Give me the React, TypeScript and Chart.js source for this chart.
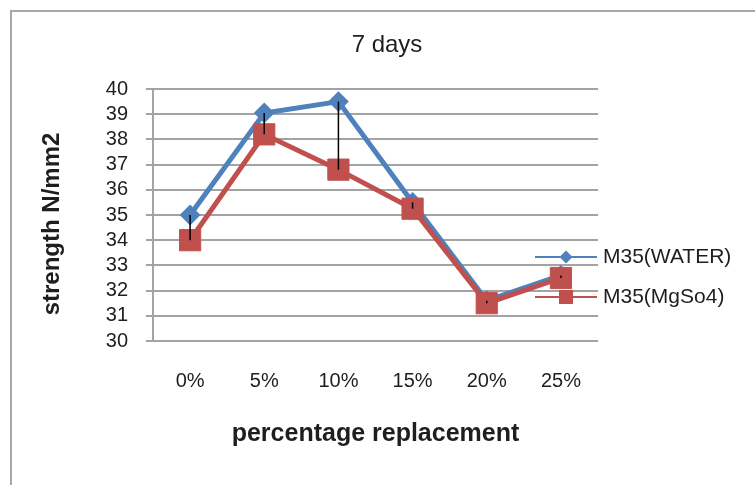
import { useEffect, useRef } from "react";
import { Chart, registerables } from "chart.js";

Chart.register(...registerables);

// Compressive strength at 7 days for each replacement level
const categories = ["0%", "5%", "10%", "15%", "20%", "25%"];
const waterStrength = [35.0, 39.05, 39.5, 35.5, 31.6, 32.6];
const mgso4Strength = [34.0, 38.2, 36.8, 35.25, 31.5, 32.5];
const seriesNames = ["M35(WATER)", "M35(MgSo4)"];
const chartTitle = "7 days";
const yAxisTitle = "strength N/mm2";
const xAxisTitle = "percentage replacement";
const yMin = 30;
const yMax = 40;
const yStep = 1;

const BLUE = "#4F81BD";
const RED = "#C0504D";
const GRID = "#a3a3a3";
const TEXT = "#1e1e1e";
const FONT = "'Liberation Sans', Arial, sans-serif";

// Light frame around the whole figure
const framePlugin = {
  id: "frame",
  beforeDraw(chart: any) {
    const { ctx, width, height } = chart;
    ctx.save();
    ctx.fillStyle = "#ffffff";
    ctx.fillRect(0, 0, width, height);
    ctx.strokeStyle = "#a8a8a8";
    ctx.lineWidth = 2;
    ctx.strokeRect(11, 11, width + 20, height + 20);
    ctx.restore();
  },
};

// Chart title and rotated value-axis title
const titlesPlugin = {
  id: "titles",
  afterDraw(chart: any) {
    const { ctx } = chart;
    ctx.save();
    ctx.fillStyle = TEXT;
    ctx.textAlign = "center";
    ctx.textBaseline = "middle";
    ctx.font = `24px ${FONT}`;
    ctx.fillText(chartTitle, 387, 45);
    ctx.translate(52, 224);
    ctx.rotate(-Math.PI / 2);
    ctx.font = `bold 24px ${FONT}`;
    ctx.fillText(yAxisTitle, 0, 0);
    ctx.restore();
  },
};

// Vertical high-low lines joining the two series at each category
const highLowPlugin = {
  id: "highLow",
  afterDatasetsDraw(chart: any) {
    const { ctx } = chart;
    const yScale = chart.scales.y;
    const xScale = chart.scales.x;
    ctx.save();
    ctx.strokeStyle = "#000000";
    ctx.lineWidth = 1.5;
    categories.forEach((_, i) => {
      const x = xScale.getPixelForValue(i);
      const hi = Math.max(waterStrength[i], mgso4Strength[i]);
      const lo = Math.min(waterStrength[i], mgso4Strength[i]);
      ctx.beginPath();
      ctx.moveTo(x, yScale.getPixelForValue(hi));
      ctx.lineTo(x, yScale.getPixelForValue(lo));
      ctx.stroke();
    });
    ctx.restore();
  },
};

// Legend placed to the right of the plot
const sideLegendPlugin = {
  id: "sideLegend",
  afterDraw(chart: any) {
    const { ctx } = chart;
    const x0 = 535;
    const x1 = 597;
    const xm = (x0 + x1) / 2;
    const rows = [
      { y: 257, color: BLUE, shape: "diamond", name: seriesNames[0] },
      { y: 297, color: RED, shape: "square", name: seriesNames[1] },
    ];
    ctx.save();
    rows.forEach((r) => {
      ctx.strokeStyle = r.color;
      ctx.lineWidth = 2;
      ctx.beginPath();
      ctx.moveTo(x0, r.y);
      ctx.lineTo(x1, r.y);
      ctx.stroke();
      ctx.fillStyle = r.color;
      ctx.beginPath();
      if (r.shape === "diamond") {
        const s = 6.5;
        ctx.moveTo(xm, r.y - s);
        ctx.lineTo(xm + s, r.y);
        ctx.lineTo(xm, r.y + s);
        ctx.lineTo(xm - s, r.y);
        ctx.closePath();
        ctx.fill();
      } else {
        ctx.fillRect(xm - 7, r.y - 7, 14, 14);
      }
      ctx.fillStyle = TEXT;
      ctx.font = `21px ${FONT}`;
      ctx.textAlign = "left";
      ctx.textBaseline = "middle";
      ctx.fillText(r.name, 603, r.y);
    });
    ctx.restore();
  },
};

export default function App() {
  const canvasRef = useRef<HTMLCanvasElement | null>(null);

  useEffect(() => {
    if (!canvasRef.current) return;
    const chart = new Chart(canvasRef.current, {
      type: "line",
      data: {
        labels: categories,
        datasets: [
          {
            label: seriesNames[0],
            data: waterStrength,
            borderColor: BLUE,
            backgroundColor: BLUE,
            borderWidth: 5,
            pointStyle: "rectRot",
            pointRadius: 9,
            pointBorderWidth: 2,
            pointBorderColor: BLUE,
            pointBackgroundColor: BLUE,
            tension: 0,
            order: 1,
          },
          {
            label: seriesNames[1],
            data: mgso4Strength,
            borderColor: RED,
            backgroundColor: RED,
            borderWidth: 5,
            pointStyle: "rect",
            pointRadius: 15,
            pointBorderWidth: 1,
            pointBorderColor: RED,
            pointBackgroundColor: RED,
            tension: 0,
            order: 0,
          },
        ],
      },
      options: {
        animation: false,
        responsive: false,
        layout: { padding: { left: 0, right: 157, top: 89, bottom: 0 } },
        plugins: {
          legend: { display: false },
          tooltip: { enabled: false },
          title: { display: false },
        },
        scales: {
          x: {
            offset: true,
            grid: { display: false, drawTicks: false },
            border: { display: false },
            ticks: {
              color: TEXT,
              font: { family: FONT, size: 20 },
              padding: 28,
            },
            title: {
              display: true,
              text: xAxisTitle,
              color: TEXT,
              font: { family: FONT, size: 25, weight: "bold" },
              padding: { top: 0, bottom: 36 },
            },
            afterFit(scale: any) {
              scale.height = 144;
            },
          },
          y: {
            min: yMin,
            max: yMax,
            grid: { color: GRID, lineWidth: 2, tickLength: 7, drawTicks: true },
            border: { display: true, color: GRID, width: 2 },
            ticks: {
              stepSize: yStep,
              autoSkip: false,
              color: TEXT,
              font: { family: FONT, size: 20 },
              padding: 18,
            },
            afterFit(scale: any) {
              scale.width = 153;
            },
          },
        },
      },
      plugins: [framePlugin, highLowPlugin, sideLegendPlugin, titlesPlugin],
    });
    return () => chart.destroy();
  }, []);

  return (
    <div style={{ position: "absolute", left: 0, top: 0, width: 755, height: 485 }}>
      <canvas ref={canvasRef} width={755} height={485} style={{ display: "block" }} />
    </div>
  );
}
